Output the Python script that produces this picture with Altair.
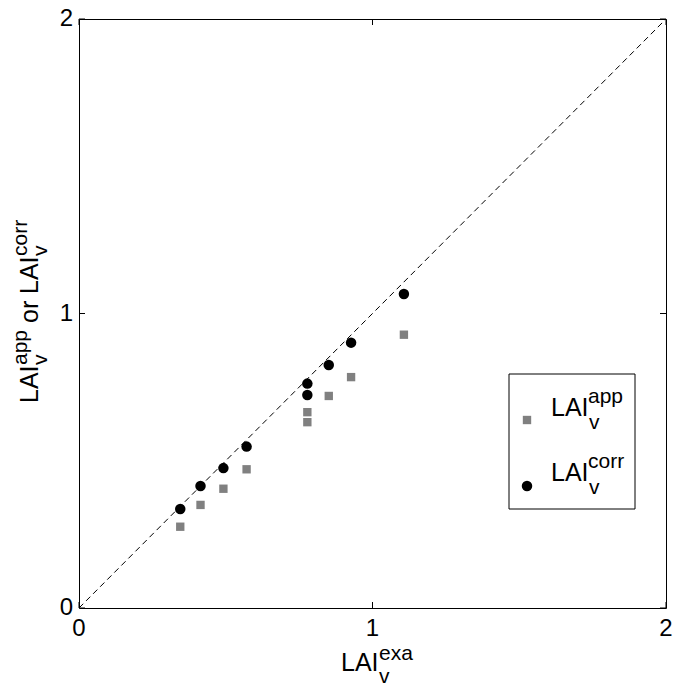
import altair as alt
import pandas as pd

# Exact (reference) LAI_v and the two estimates plotted against it
lai_exa = [0.345, 0.414, 0.492, 0.571, 0.778, 0.778, 0.851, 0.927, 1.107]
lai_app = [0.276, 0.350, 0.405, 0.471, 0.665, 0.631, 0.720, 0.784, 0.928]
lai_corr = [0.336, 0.414, 0.475, 0.548, 0.762, 0.723, 0.825, 0.901, 1.066]

axis_ticks = [0, 1, 2]
tick_text = ["0", "1", "2"]
one_to_one = [0, 2]

W, H = 587, 589
FONT = "Liberation Sans"
MAIN, SMALL = 25, 21

pts = pd.DataFrame({"exa": lai_exa, "app": lai_app, "corr": lai_corr})
ticks_df = pd.DataFrame({"t": axis_ticks, "lab": tick_text})
one = pd.DataFrame({"k": [0]})

xs = alt.Scale(domain=[0, 2], nice=False, zero=False)
ys = alt.Scale(domain=[0, 2], nice=False, zero=False)


def X(field):
    return alt.X(field, type="quantitative", scale=xs, axis=None)


def Y(field):
    return alt.Y(field, type="quantitative", scale=ys, axis=None)


diag = alt.Chart(pd.DataFrame({"a": one_to_one, "b": one_to_one})).mark_line(
    color="black", strokeDash=[6, 4], strokeWidth=1
).encode(x=X("a"), y=Y("b"))

app_pts = alt.Chart(pts).mark_point(
    shape="square", filled=True, color="#808080", size=70, opacity=1
).encode(x=X("exa"), y=Y("app"))

corr_pts = alt.Chart(pts).mark_circle(
    color="black", size=110, opacity=1
).encode(x=X("exa"), y=Y("corr"))

# inward tick marks on all four sides of the box
tl = 6
tick_layers = [
    alt.Chart(ticks_df).mark_rule(color="black").encode(
        x=X("t"), y=alt.value(H), y2=alt.value(H - tl)),
    alt.Chart(ticks_df).mark_rule(color="black").encode(
        x=X("t"), y=alt.value(0), y2=alt.value(tl)),
    alt.Chart(ticks_df).mark_rule(color="black").encode(
        y=Y("t"), x=alt.value(0), x2=alt.value(tl)),
    alt.Chart(ticks_df).mark_rule(color="black").encode(
        y=Y("t"), x=alt.value(W), x2=alt.value(W - tl)),
]

# tick labels
x_labels = alt.Chart(ticks_df).mark_text(
    font=FONT, fontSize=24, color="black", align="center", baseline="top"
).encode(x=X("t"), y=alt.value(H + 9), text="lab:N")
y_labels = alt.Chart(ticks_df).mark_text(
    font=FONT, fontSize=24, color="black", align="right", baseline="middle"
).encode(y=Y("t"), x=alt.value(-6), text="lab:N")

# legend box with its two symbols
legend_box = alt.Chart(one).mark_rect(
    fill="white", stroke="black", strokeWidth=1
).encode(x=alt.value(430), x2=alt.value(556), y=alt.value(355), y2=alt.value(490))
legend_sq = alt.Chart(one).mark_point(
    shape="square", filled=True, color="#808080", size=70, opacity=1
).encode(x=alt.value(448), y=alt.value(401))
legend_ci = alt.Chart(one).mark_circle(
    color="black", size=110, opacity=1
).encode(x=alt.value(448), y=alt.value(467))

# text pieces (base text, superscripts, subscripts): text, x, y, size, angle
pieces = [
    # legend entries
    ("LAI", 472, 397, MAIN, 0), ("app", 509, 384, SMALL, 0), ("v", 510, 410, SMALL, 0),
    ("LAI", 472, 462, MAIN, 0), ("corr", 509, 449, SMALL, 0), ("v", 510, 475, SMALL, 0),
    # x title
    ("LAI", 262, 652, MAIN, 0), ("exa", 300, 641, SMALL, 0), ("v", 300, 664, SMALL, 0),
    # y title (rotated, reading upward)
    ("LAI", -41, 384, MAIN, 270), ("app", -52, 346, SMALL, 270), ("v", -32, 346, SMALL, 270),
    ("or", -41, 304, MAIN, 270),
    ("LAI", -41, 275, MAIN, 270), ("corr", -52, 237, SMALL, 270), ("v", -32, 237, SMALL, 270),
]
text_df = pd.DataFrame(pieces, columns=["txt", "px", "py", "fs", "ang"])
texts = alt.Chart(text_df).mark_text(
    font=FONT, align="left", baseline="alphabetic", color="black"
).encode(
    x=alt.X("px:Q", scale=None, axis=None),
    y=alt.Y("py:Q", scale=None, axis=None),
    text="txt:N",
    size=alt.Size("fs:Q", scale=None, legend=None),
    angle=alt.Angle("ang:Q", scale=None, legend=None),
)

chart = alt.layer(
    diag, *tick_layers, x_labels, y_labels, app_pts, corr_pts,
    legend_box, legend_sq, legend_ci, texts
).resolve_scale(x="independent", y="independent").properties(
    width=W, height=H,
    autosize=alt.AutoSizeParams(type="none"),
    padding={"left": 79, "top": 19, "right": 8, "bottom": 78},
    background="white",
).configure_view(stroke="black", strokeWidth=1)

chart.save("out.html", embed_options={"renderer": "svg", "actions": False})
